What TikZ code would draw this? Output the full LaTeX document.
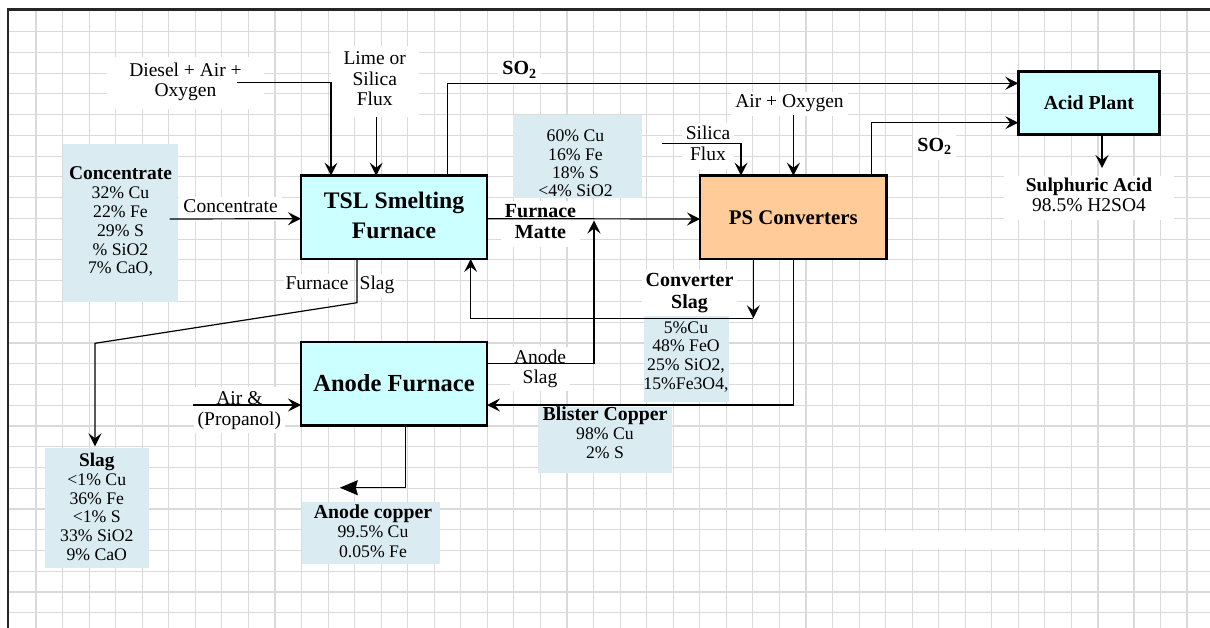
\documentclass[tikz,border=0pt]{standalone}
\usepackage{fontspec}
\setmainfont{Liberation Serif}
\usetikzlibrary{arrows.meta,calc}
\definecolor{gridgray}{RGB}{218,218,218}
\definecolor{boxcyan}{RGB}{204,255,255}
\definecolor{boxorange}{RGB}{255,204,153}
\definecolor{compblue}{RGB}{218,236,242}
\newcommand\fLab{\fontsize{19.5}{20.5}\selectfont}
\newcommand\fLabB{\fontsize{20}{21}\selectfont\bfseries}
\newcommand\fComp{\fontsize{17.7}{18.8}\selectfont}
\newcommand\fHdr{\bfseries\fontsize{19.5}{18.8}\selectfont}
\begin{document}
\begin{tikzpicture}[x=1pt,y=-1pt,
  gridline/.style={draw=gridgray, line width=1.1pt},
  mainbox/.style={draw=black, line width=2.4pt, inner sep=0pt, outer sep=0pt, align=center},
  compbox/.style={fill=compblue, inner sep=0pt, outer sep=0pt},
  ctext/.style={inner sep=0pt, outer sep=0pt, anchor=north, align=center},
  wlab/.style={fill=white, inner xsep=4pt, inner ysep=2pt, outer sep=0pt, anchor=north, align=center},
  conn/.style={draw=black, line width=1.2pt, -{Stealth[length=13pt,width=13pt,inset=5pt]}},
  bigconn/.style={draw=black, line width=1.2pt, -{Stealth[length=18pt,width=15pt,inset=2pt]}}]
\useasboundingbox (0,0) rectangle (1210,628);
\fill[white] (0,0) rectangle (1210,628);
% grid
\foreach \k in {0,...,40} \draw[gridline] ({36+26.55*\k},10.5) -- ({36+26.55*\k},628);
\foreach \gx in {1134,1160.5,1187} \draw[gridline] (\gx,10.5) -- (\gx,628);
\foreach \k in {0,...,28} \draw[gridline] (9,{31.7+20.75*\k}) -- (1210,{31.7+20.75*\k});
\fill[white] (861.5,531.4) rectangle (1045,549.4);
% frame
\draw[black!85, line width=2.2pt] (8,628) -- (8,9.5) -- (1210,9.5);
% composition boxes
\node[compbox, minimum width=115pt, minimum height=157.7pt] (concbox) at (120.5,222.85) {};
\node[compbox, minimum width=129pt, minimum height=83.3pt] (mattebox) at (577.2,156.65) {};
\node[compbox, minimum width=85pt, minimum height=87.7pt] (cslagbox) at (686.5,357.85) {};
\node[compbox, minimum width=134pt, minimum height=66pt] (blisterbox) at (605,440) {};
\node[compbox, minimum width=137.7pt, minimum height=62.3pt] (acopperbox) at (371.15,532.85) {};
\node[compbox, minimum width=104.1pt, minimum height=120pt] (slagbox) at (97.25,508.3) {};
% labels
\node[wlab, inner xsep=22pt, inner ysep=6pt, font={\fontsize{19.5}{20}\selectfont}] (diesel) at (185.5,56.7) {\strut Diesel + Air +\\\strut Oxygen};
\node[wlab, inner xsep=13pt, inner ysep=5pt, font=\fLab] (lime) at (374.7,45.65) {\strut Lime or\\\strut Silica\\\strut Flux};
\node[wlab, font=\fLabB] (so2a) at (519.5,58.3) {\strut SO\textsubscript{2}};
\node[wlab, font=\fLab] (conclab) at (230.6,196.65) {\strut Concentrate};
\node[wlab, inner xsep=2pt, font=\fLab] (fslag1) at (317,273.65) {\strut Furnace};
\node[wlab, inner xsep=2pt, font=\fLab] (fslag2) at (377,273.65) {\strut Slag};
\node[wlab, font=\fLabB] (matte) at (540.5,200.6) {\strut Furnace\\\strut Matte};
\node[wlab, font={\fontsize{19.5}{20}\selectfont}] (aslag) at (540,347) {\strut Anode\\\strut Slag};
\node[wlab, font={\fontsize{19.5}{21}\selectfont}] (silica) at (708,123.3) {\strut Silica\\\strut Flux};
\node[wlab, font=\fLab] (airox) at (789.5,91.65) {\strut Air + Oxygen};
\node[wlab, font=\fLabB] (so2b) at (934.5,135) {\strut SO\textsubscript{2}};
\node[wlab, inner xsep=22pt, font={\fontsize{19.5}{20}\selectfont}] (sulph) at (1089,175.7) {{\bfseries\strut Sulphuric Acid}\\\strut 98.5\% H2SO4};
\node[wlab, font={\bfseries\fontsize{20}{21.3}\selectfont}] (cslag) at (689.5,269.8) {\strut Converter\\\strut Slag};
\node[wlab, font={\fontsize{19.5}{21}\selectfont}] (airprop) at (239.4,387.3) {\strut Air \&\\\strut (Propanol)};
% composition texts
\node[ctext, font=\fComp] (conctext) at (120.5,166.84) {{\fHdr\strut Concentrate}\\\strut 32\% Cu\\\strut 22\% Fe\\\strut 29\% S\\\strut \% SiO2\\\strut 7\% CaO,};
\begin{scope}
\clip (mattebox.south west) rectangle (mattebox.north east);
\node[ctext, font={\fontsize{17.7}{18.4}\selectfont}] (mattetext) at (575.5,128.8) {\strut 60\% Cu\\\strut 16\% Fe\\\strut 18\% S\\\strut <4\% SiO2};
\end{scope}
\node[ctext, font={\fontsize{17.7}{18.7}\selectfont}] (cslagtext) at (686,320.2) {\strut 5\%Cu\\\strut 48\% FeO\\\strut 25\% SiO2,\\\strut 15\%Fe3O4,};
\node[ctext, font={\fontsize{17.7}{18.7}\selectfont}] (blistertext) at (605,406.9) {{\bfseries\fontsize{19.8}{18.7}\selectfont\strut Blister Copper}\\\strut 98\% Cu\\\strut 2\% S};
\node[ctext, font={\fontsize{17.7}{19.2}\selectfont}] (acoppertext) at (373,504.9) {{\bfseries\fontsize{19.8}{19.2}\selectfont\strut Anode copper}\\\strut 99.5\% Cu\\\strut 0.05\% Fe};
\node[ctext, font={\fontsize{17.7}{18.65}\selectfont}] (slagtext) at (96.8,453.6) {{\bfseries\fontsize{19.3}{18.65}\selectfont\strut Slag}\\\strut <1\% Cu\\\strut 36\% Fe\\\strut <1\% S\\\strut 33\% SiO2\\\strut 9\% CaO};
% main boxes
\node[mainbox, fill=boxcyan, minimum width=186pt, minimum height=83.3pt, font={\bfseries\fontsize{23.7}{30}\selectfont}] (tsl) at (394,217.35) {\strut TSL Smelting\\\strut Furnace};
\node[mainbox, fill=boxcyan, minimum width=186pt, minimum height=83.6pt, text height=16.4pt, text depth=0pt, font={\bfseries\fontsize{24.5}{30}\selectfont}] (anode) at (394,383.5) {Anode Furnace};
\node[mainbox, fill=boxorange, minimum width=186.4pt, minimum height=83.3pt, text height=15.3pt, text depth=0pt, font={\bfseries\fontsize{20.8}{25}\selectfont}] (ps) at (793.2,217.35) {PS Converters};
\node[mainbox, fill=boxcyan, minimum width=141.2pt, minimum height=63pt, text height=13.6pt, text depth=0pt, font={\bfseries\fontsize{19.9}{24}\selectfont}] (acid) at (1088.9,103.2) {Acid Plant};
% connectors
\coordinate (dA) at (237,82.3);
\draw[conn] (dA) -| ($(tsl.north west)+(30,0)$);
\coordinate (lA) at (376.2,116.7);
\draw[conn] (lA) -- (lA |- tsl.north);
\draw[conn] ($(tsl.north west)+(146.8,0)$) |- ($(acid.north west)+(0,11.6)$);
\draw[conn] ($(concbox.north east)+(-8.5,75)$) -- ($(tsl.north west)+(0,43)$);
\coordinate (fsA) at (95,343.3);
\draw[conn] ($(tsl.south west)+(56,0)$) -- ++(0,43.7) -- (fsA) -- ($(fsA |- slagbox.north)+(0,-2)$);
\draw[conn] ($(tsl.north east)+(0,43)$) -- ($(ps.north west)+(0,43.3)$);
\coordinate (csA) at (753.3,318.3);
\draw[conn] ($(ps.south west)+(53.3,0)$) -- (csA);
\draw[conn] (csA) -| ($(tsl.south west)+(169.7,0)$);
\coordinate (asA) at (594,220.5);
\draw[conn] ($(anode.north east)+(0,21.6)$) -| (asA);
\coordinate (sfA) at (661.7,143.3);
\draw[conn] (sfA) -| ($(ps.north west)+(41,0)$);
\coordinate (aoA) at (793.4,115);
\draw[conn] (aoA) -- (aoA |- ps.north);
\draw[conn] ($(ps.north west)+(171.6,0)$) |- ($(acid.north west)+(0,51)$);
\draw[conn] ($(acid.south west)+(83.7,0)$) -- ++(0,33.3);
\draw[conn] ($(ps.south west)+(93.4,0)$) |- ($(anode.north east)+(0,63.3)$);
\coordinate (apA) at (193.3,405);
\draw[conn] (apA) -- (apA -| anode.west);
\coordinate (acA) at (339.8,487.7);
\draw[bigconn] ($(anode.south west)+(104.7,0)$) |- (acA);
\end{tikzpicture}
\end{document}
